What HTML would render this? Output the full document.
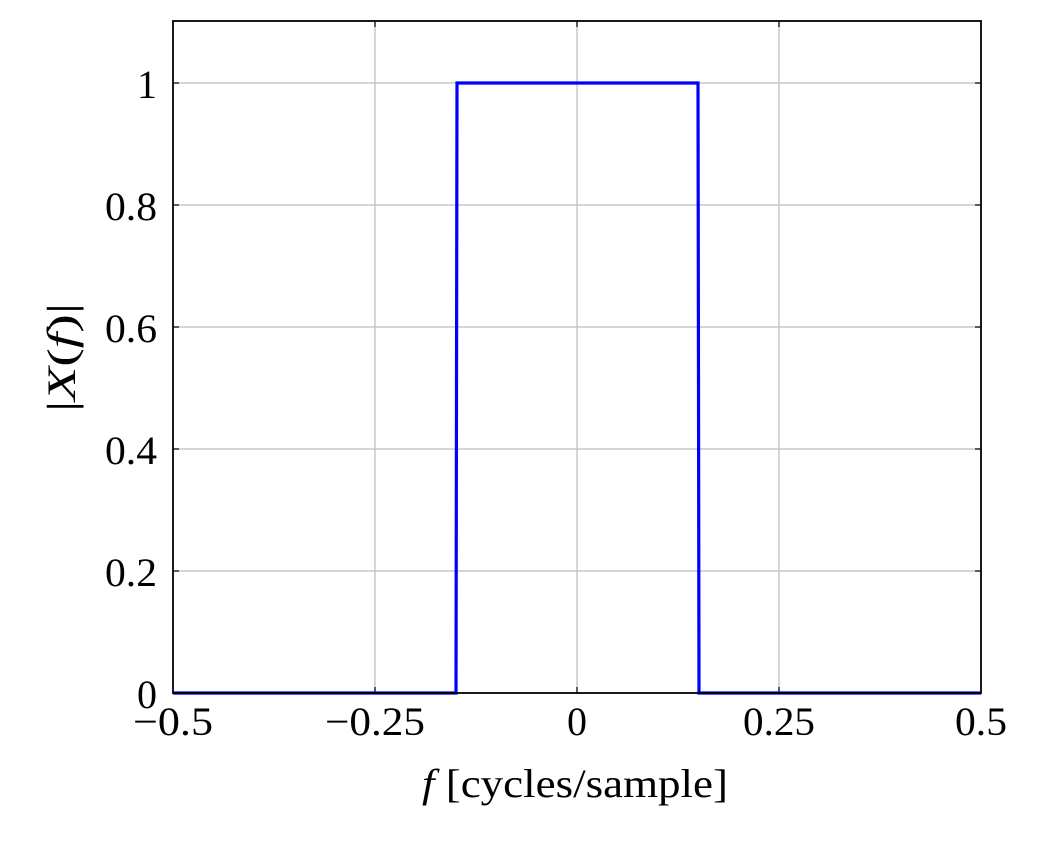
<!DOCTYPE html>
<html><head><meta charset="utf-8"><style>
html,body{margin:0;padding:0;background:#fff;}
svg text{font-family:"Liberation Serif",serif;fill:#000;}
</style></head><body>
<svg width="1043" height="844" viewBox="0 0 1043 844" xmlns="http://www.w3.org/2000/svg">
<g stroke="#c8c8c8" stroke-width="1.5">
<line x1="375" y1="21" x2="375" y2="693"/>
<line x1="577" y1="21" x2="577" y2="693"/>
<line x1="779" y1="21" x2="779" y2="693"/>
<line x1="173" y1="83" x2="981" y2="83"/>
<line x1="173" y1="205" x2="981" y2="205"/>
<line x1="173" y1="327" x2="981" y2="327"/>
<line x1="173" y1="449" x2="981" y2="449"/>
<line x1="173" y1="571" x2="981" y2="571"/>
</g>
<g stroke="#000" stroke-width="1.2">
<line x1="375" y1="693" x2="375" y2="687"/><line x1="375" y1="21" x2="375" y2="27"/>
<line x1="577" y1="693" x2="577" y2="687"/><line x1="577" y1="21" x2="577" y2="27"/>
<line x1="779" y1="693" x2="779" y2="687"/><line x1="779" y1="21" x2="779" y2="27"/>
<line x1="173" y1="83" x2="179" y2="83"/><line x1="981" y1="83" x2="975" y2="83"/>
<line x1="173" y1="205" x2="179" y2="205"/><line x1="981" y1="205" x2="975" y2="205"/>
<line x1="173" y1="327" x2="179" y2="327"/><line x1="981" y1="327" x2="975" y2="327"/>
<line x1="173" y1="449" x2="179" y2="449"/><line x1="981" y1="449" x2="975" y2="449"/>
<line x1="173" y1="571" x2="179" y2="571"/><line x1="981" y1="571" x2="975" y2="571"/>
</g>
<polyline points="173,693 456,693 457,83 698,83 699,693 981,693" fill="none" stroke="#0000ff" stroke-width="3.2"/>
<rect x="173" y="21" width="808" height="672" fill="none" stroke="#000" stroke-width="1.8"/>
<g font-size="40">
<text x="133" y="735" textLength="80" lengthAdjust="spacingAndGlyphs">−0.5</text>
<text x="325" y="735" textLength="100" lengthAdjust="spacingAndGlyphs">−0.25</text>
<text x="567" y="735" textLength="20" lengthAdjust="spacingAndGlyphs">0</text>
<text x="743" y="735" textLength="72" lengthAdjust="spacingAndGlyphs">0.25</text>
<text x="955" y="735" textLength="52" lengthAdjust="spacingAndGlyphs">0.5</text>
</g>
<g font-size="40">
<text x="137" y="708" textLength="20" lengthAdjust="spacingAndGlyphs">0</text>
<text x="105" y="586" textLength="52" lengthAdjust="spacingAndGlyphs">0.2</text>
<text x="105" y="464" textLength="52" lengthAdjust="spacingAndGlyphs">0.4</text>
<text x="105" y="342" textLength="52" lengthAdjust="spacingAndGlyphs">0.6</text>
<text x="105" y="220" textLength="52" lengthAdjust="spacingAndGlyphs">0.8</text>
<text x="137" y="98" textLength="20" lengthAdjust="spacingAndGlyphs">1</text>
</g>
<text x="422" y="797" font-size="40" textLength="306" lengthAdjust="spacingAndGlyphs"><tspan font-style="italic">f</tspan>  [cycles/sample]</text>
<text transform="translate(75,412) rotate(-90)" font-size="40" textLength="109" lengthAdjust="spacingAndGlyphs">|<tspan font-style="italic">X</tspan>(<tspan font-style="italic">f</tspan>)|</text>
</svg>
</body></html>
